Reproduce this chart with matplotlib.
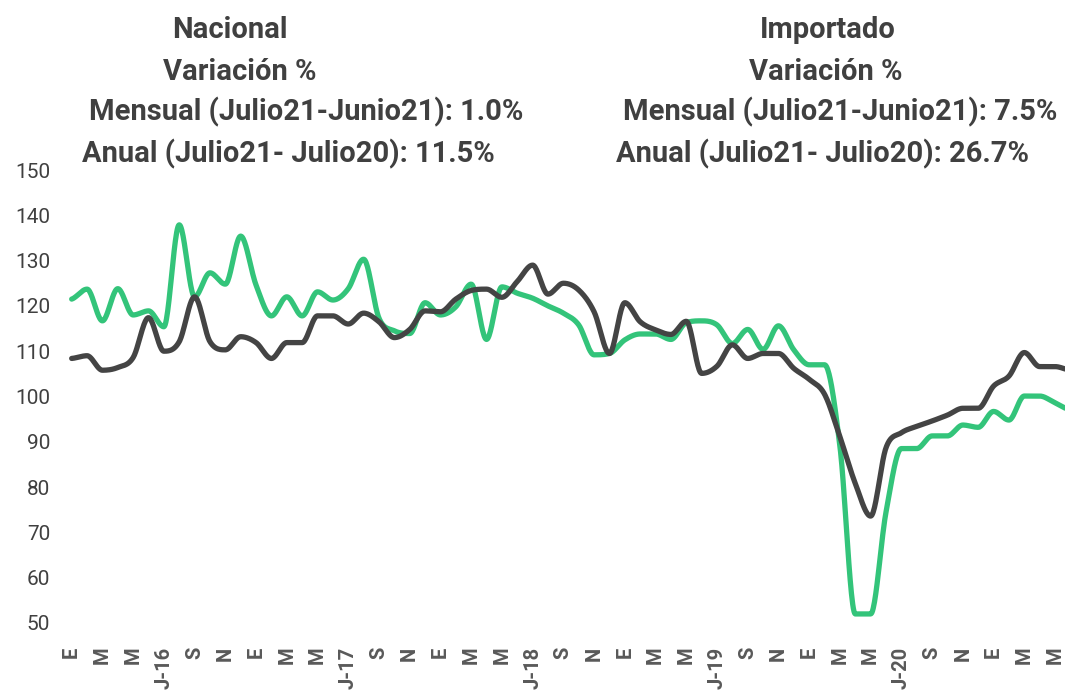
import numpy as np
import matplotlib
matplotlib.use("Agg")
import matplotlib.pyplot as plt

# ---- data (monthly, Jan 2016 .. Jun 2021) ----
green_vals = [121.5, 123.7, 116.7, 123.8, 118.0, 118.9, 115.4, 137.9, 122.0, 127.3,
              124.8, 135.4, 124.6, 117.8, 122.0, 117.8, 123.1, 121.3, 123.8, 130.3,
              117.3, 114.5, 113.9, 120.7, 118.0, 119.8, 124.8, 112.6, 124.2, 122.8,
              121.7, 120.0, 118.4, 115.8, 109.2, 109.5, 112.5, 113.8, 113.8, 112.6,
              116.3, 116.7, 115.8, 111.7, 114.8, 110.4, 115.6, 110.3, 107.0, 107.0,
              89.0, 52.0, 52.0, 74.5, 88.5, 88.5, 91.3, 91.3, 93.7, 93.2,
              96.7, 94.8, 100.1, 100.1, 98.6, 97.0]
dark_vals = [108.4, 109.0, 105.8, 106.4, 108.6, 117.4, 110.0, 112.1, 122.0, 112.1,
             110.3, 113.2, 111.9, 108.4, 111.9, 111.9, 117.8, 117.8, 116.0, 118.4,
             116.5, 113.0, 114.8, 118.9, 118.7, 121.5, 123.4, 123.7, 121.9, 125.4,
             129.0, 122.6, 125.0, 123.5, 118.7, 109.5, 120.7, 116.5, 114.7, 113.7,
             116.6, 105.1, 106.7, 111.4, 108.4, 109.5, 109.5, 106.2, 103.8, 100.5,
             91.1, 80.8, 73.6, 88.7, 92.0, 93.4, 94.6, 95.9, 97.4, 97.4,
             102.3, 104.5, 109.7, 106.6, 106.6, 105.8]
tick_labels = ["E", "M", "M", "J-16", "S", "N",
               "E", "M", "M", "J-17", "S", "N",
               "E", "M", "M", "J-18", "S", "N",
               "E", "M", "M", "J-19", "S", "N",
               "E", "M", "M", "J-20", "S", "N",
               "E", "M", "M"]
y_ticks = [50, 60, 70, 80, 90, 100, 110, 120, 130, 140, 150]

left_title = ["Nacional", "Variación %", "Mensual (Julio21-Junio21): 1.0%",
              "Anual (Julio21- Julio20): 11.5%"]
right_title = ["Importado", "Variación %", "Mensual (Julio21-Junio21): 7.5%",
               "Anual (Julio21- Julio20): 26.7%"]

GREEN = "#33C47A"
DARK = "#444444"
TXT = "#404040"

plt.rcParams['font.family'] = ['Roboto', 'DejaVu Sans']


def smooth(y, n=24):
    """Smoothed line through the points (cubic Hermite, no overshoot at flats)."""
    y = np.asarray(y, float)
    N = len(y)
    d = np.diff(y)
    m = np.zeros(N)
    for i in range(N):
        if i == 0:
            m[i] = d[0] * 0.5
        elif i == N - 1:
            m[i] = d[-1] * 0.5
        else:
            if d[i - 1] * d[i] <= 0:
                m[i] = 0.0
            else:
                m[i] = 0.5 * (d[i - 1] + d[i])
                lim = 3 * min(abs(d[i - 1]), abs(d[i]))
                m[i] = np.sign(m[i]) * min(abs(m[i]), lim)
    t = np.linspace(0, 1, n, endpoint=False)
    h00 = 2 * t**3 - 3 * t**2 + 1
    h10 = t**3 - 2 * t**2 + t
    h01 = -2 * t**3 + 3 * t**2
    h11 = t**3 - t**2
    xs, ys = [], []
    for i in range(N - 1):
        xs.append(i + t)
        ys.append(h00 * y[i] + h10 * m[i] + h01 * y[i + 1] + h11 * m[i + 1])
    xs.append([N - 1]); ys.append([y[-1]])
    return np.concatenate(xs), np.concatenate(ys)


W, H = 1065, 692
fig = plt.figure(figsize=(W / 100, H / 100), dpi=100)
ax_l, ax_r, ax_t, ax_b = 64, 1065, 170, 623
ax = fig.add_axes([ax_l / W, 1 - ax_b / H, (ax_r - ax_l) / W, (ax_b - ax_t) / H])

gx, gy = smooth(green_vals)
dx, dy = smooth(dark_vals)
ax.plot(gx, gy, color=GREEN, lw=3.8, solid_capstyle='round', solid_joinstyle='round')
ax.plot(dx, dy, color=DARK, lw=3.8, solid_capstyle='round', solid_joinstyle='round')

ax.set_ylim(50, 150)
ax.set_xlim(-0.5, (1065 - 72) / 15.36)
ax.set_yticks(y_ticks)
ax.set_yticklabels([str(v) for v in y_ticks], fontsize=15, color=TXT)
xt = np.arange(0, 2 * len(tick_labels), 2)
ax.set_xticks(xt)
ax.set_xticklabels(tick_labels, rotation=90, fontsize=14.5, fontweight='bold',
                   color="#595959", va='top')
ax.tick_params(axis='both', length=0)
ax.tick_params(axis='y', pad=10)
ax.tick_params(axis='x', pad=17)
for s in ax.spines.values():
    s.set_visible(False)

# header texts
ys_px = [30, 72, 112, 154]
lx = [230, 240, 306, 288]
rx = [828, 826, 840, 822]
for txt, x, y in zip(left_title, lx, ys_px):
    fig.text(x / W, 1 - y / H, txt, ha='center', va='center', fontsize=21,
             fontweight='bold', color=TXT)
for txt, x, y in zip(right_title, rx, ys_px):
    fig.text(x / W, 1 - y / H, txt, ha='center', va='center', fontsize=21,
             fontweight='bold', color=TXT)

fig.savefig("out.png", dpi=100)
